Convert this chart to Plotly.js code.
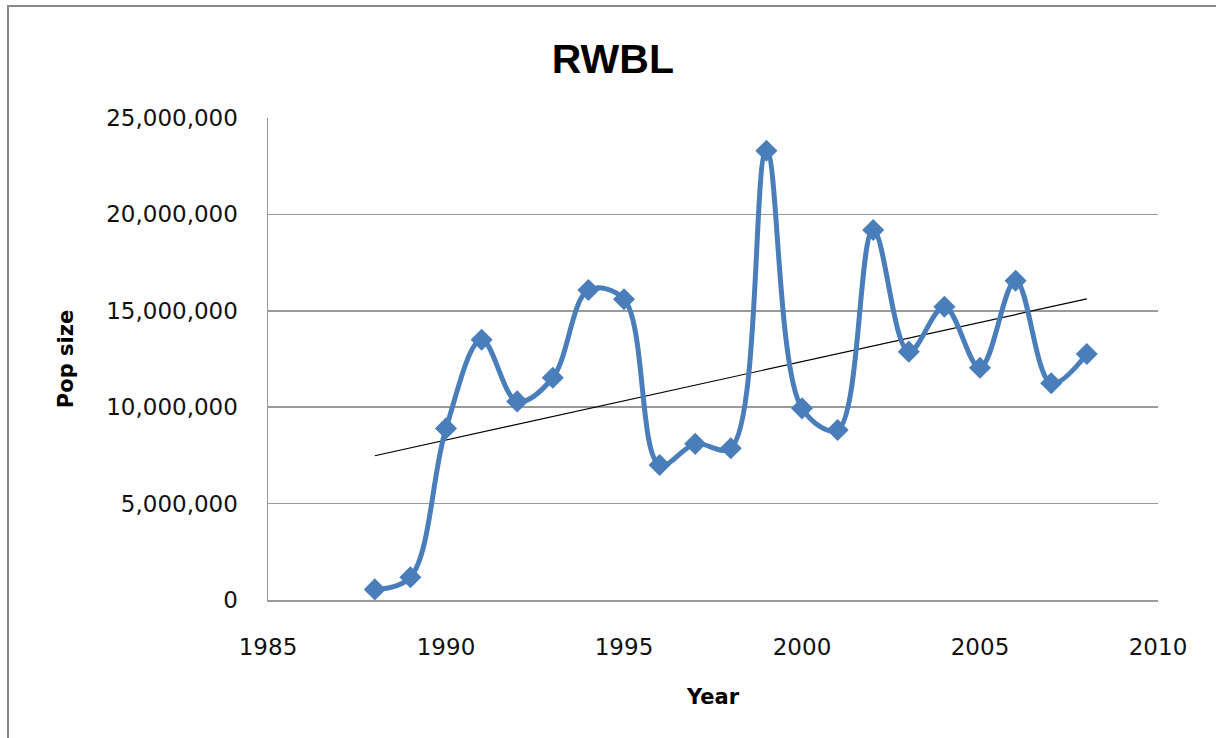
<!DOCTYPE html>
<html>
<head>
<meta charset="utf-8">
<script src="https://cdn.plot.ly/plotly-3.0.1.min.js"></script>
<style>
  html, body { margin: 0; padding: 0; background: #fff; }
  #wrap { position: relative; width: 1216px; height: 738px; overflow: hidden; }
  #chart { width: 1216px; height: 738px; }
  #frame { position: absolute; left: 7px; top: 5px; width: 1300px; height: 900px;
           border-left: 2px solid #8a8a8a; border-top: 2px solid #8a8a8a; pointer-events: none; }
</style>
</head>
<body>
<div id="wrap">
  <div id="chart"></div>
  <div id="frame"></div>
</div>
<script>
// Data
const years = [1988, 1989, 1990, 1991, 1992, 1993, 1994, 1995, 1996, 1997, 1998,
               1999, 2000, 2001, 2002, 2003, 2004, 2005, 2006, 2007, 2008];
const popSize = [550000, 1180000, 8900000, 13500000, 10300000, 11530000, 16080000,
                 15600000, 7000000, 8100000, 7870000, 23300000, 9940000, 8820000,
                 19190000, 12880000, 15210000, 12050000, 16560000, 11240000, 12760000];
const xTicks = [1985, 1990, 1995, 2000, 2005, 2010];
const yTicks = [0, 5000000, 10000000, 15000000, 20000000, 25000000];

// Linear trendline (least squares) over the series
const n = years.length;
const mx = years.reduce((a, b) => a + b, 0) / n;
const my = popSize.reduce((a, b) => a + b, 0) / n;
let sxy = 0, sxx = 0;
for (let i = 0; i < n; i++) { sxy += (years[i] - mx) * (popSize[i] - my); sxx += (years[i] - mx) ** 2; }
const slope = sxy / sxx;
const intercept = my - slope * mx;
const trendX = [years[0], years[n - 1]];
const trendY = trendX.map(x => intercept + slope * x);

const traces = [
  {
    x: trendX, y: trendY, type: 'scatter', mode: 'lines',
    line: { color: '#000000', width: 1.2 }, hoverinfo: 'skip', showlegend: false
  },
  {
    x: years, y: popSize, type: 'scatter', mode: 'lines+markers',
    line: { color: '#4A7EBB', width: 5, shape: 'spline', smoothing: 1 },
    marker: { symbol: 'diamond', size: 17, color: '#4A7EBB' },
    showlegend: false
  }
];

const layout = {
  width: 1216, height: 738,
  margin: { l: 268, r: 58, t: 118, b: 138 },
  paper_bgcolor: '#ffffff', plot_bgcolor: '#ffffff',
  title: {
    text: '<b>RWBL</b>',
    font: { family: 'Liberation Sans, Arial, sans-serif', size: 41, color: '#000' },
    x: 0.504, xanchor: 'center', y: 0.921, yanchor: 'middle'
  },
  xaxis: {
    range: [1985, 2010], tickvals: xTicks, ticktext: xTicks.map(String),
    showgrid: false, zeroline: false,
    showline: true, linecolor: '#9a9a9a', linewidth: 1.5,
    ticks: '', ticklabelstandoff: 26,
    tickfont: { family: 'DejaVu Sans, Verdana, sans-serif', size: 23, color: '#111' },
    title: { text: '<b>Year</b>', standoff: 30,
             font: { family: 'DejaVu Sans, Verdana, sans-serif', size: 21, color: '#000' } },
    fixedrange: true
  },
  yaxis: {
    range: [0, 25000000], tickvals: yTicks, tickformat: ',d',
    showgrid: true, gridcolor: '#9a9a9a', gridwidth: 1.5, zeroline: false,
    showline: true, linecolor: '#9a9a9a', linewidth: 1.5,
    ticks: '', ticklabelstandoff: 24,
    tickfont: { family: 'DejaVu Sans, Verdana, sans-serif', size: 23, color: '#111' },
    title: { text: '<b>Pop size</b>', standoff: 27,
             font: { family: 'DejaVu Sans, Verdana, sans-serif', size: 21, color: '#000' } },
    fixedrange: true
  }
};

Plotly.newPlot('chart', traces, layout, { displayModeBar: false, staticPlot: true });
</script>
</body>
</html>
